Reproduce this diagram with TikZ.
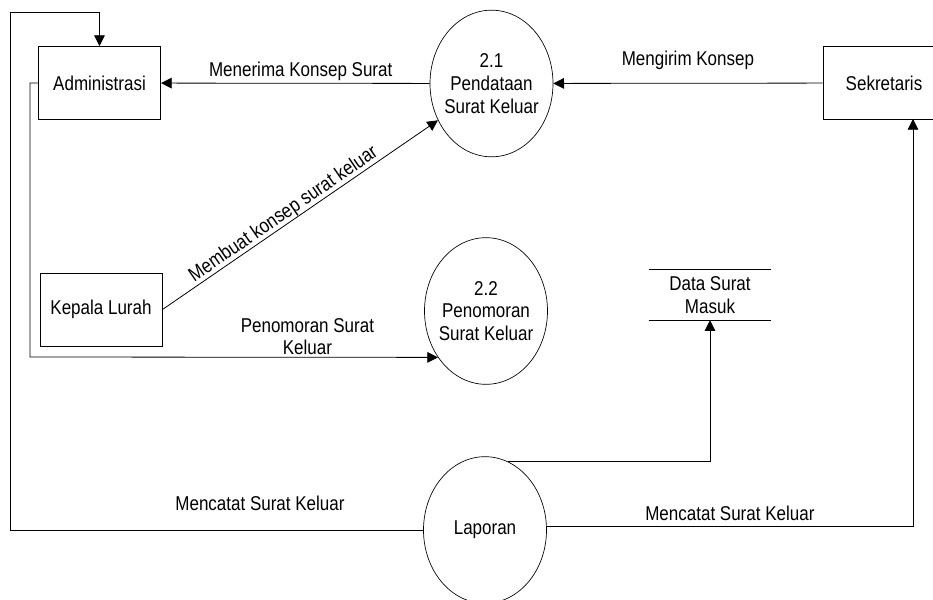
\documentclass[tikz,border=0pt]{standalone}
\usepackage{fontspec}
\setmainfont{Liberation Sans}[FakeStretch=0.85]
\usetikzlibrary{shapes.geometric,arrows.meta}
\begin{document}
\begin{tikzpicture}[x=0.75pt,y=-0.75pt,
    font=\fontsize{15}{17}\selectfont,
    entity/.style={draw,line width=0.75pt,minimum width=91.5pt,minimum height=54.75pt,inner sep=0pt},
    proc/.style={draw,ellipse,line width=0.5pt,minimum width=92.25pt,minimum height=110pt,inner sep=-4pt,align=center},
    store/.style={minimum width=91.5pt,minimum height=37.5pt,inner sep=0pt,align=center},
    lbl/.style={inner sep=1pt,align=center}]
  \useasboundingbox (0,0) rectangle (933,600);
  \draw
    (99.5,83) node[entity] (admin){Administrasi}
    (101,309.5) node[entity] (kepala){Kepala Lurah}
    (884,83) node[entity] (sekre){Sekretaris}
    (491.5,83.5) node[proc] (p21){2.1\\Pendataan\\Surat Keluar}
    (486,311) node[proc] (p22){2.2\\Penomoran\\Surat Keluar}
    (485,530) node[proc] (lap){Laporan}
    (710,295) node[store] (dsm){Data Surat\\Masuk};
  \draw[line width=0.75pt]
    (dsm.north west) -- (dsm.north east)
    (dsm.south west) -- (dsm.south east);
  \coordinate (kiri) at (10,12);
  \coordinate (kiri2) at (30,357);
  \coordinate (kanan) at (913,119);
  \begin{scope}[-{Triangle[length=8pt,width=8pt]},line width=0.6pt]
    \draw (sekre) -- node[lbl,above=9pt]{Mengirim Konsep} (p21);
    \draw (p21) -- node[lbl,above=1pt,pos=0.48]{Menerima Konsep Surat} (admin);
    \draw (kepala.east) -- node[lbl,sloped,above=-1pt,pos=0.46]{Membuat konsep surat keluar} (p21);
    \draw (admin.west) -| (kiri2) -- node[lbl,above=0.5pt,pos=0.68]{Penomoran Surat\\Keluar} (p22.224);
    \draw (lap.west) -- node[lbl,above=13pt,pos=0.395]{Mencatat Surat Keluar} (lap.west -| kiri) -- (kiri) -| (admin.north);
    \draw (lap.3) -- node[lbl,above=3.5pt]{Mencatat Surat Keluar} (lap.3 -| kanan) -- (kanan);
    \draw (lap.71) -| (dsm.south);
  \end{scope}
\end{tikzpicture}
\end{document}
